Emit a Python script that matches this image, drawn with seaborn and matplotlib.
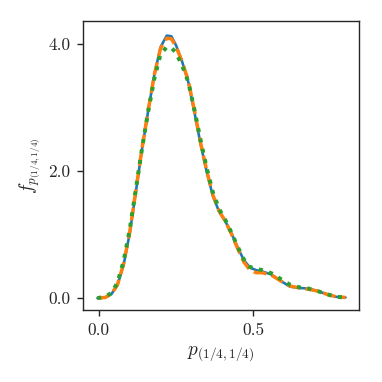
import pandas as pd
import matplotlib
matplotlib.use("Agg")
import matplotlib.pyplot as plt
import seaborn as sns

# density curves
x = [-0.005, 0.02, 0.04, 0.06, 0.08, 0.10, 0.12, 0.14, 0.16, 0.18, 0.20, 0.22,
     0.235, 0.25, 0.27, 0.29, 0.31, 0.33, 0.35, 0.37, 0.39, 0.41, 0.43, 0.45,
     0.47, 0.49, 0.51, 0.53, 0.56, 0.59, 0.62, 0.65, 0.68, 0.71, 0.74, 0.77, 0.80]

f_blue = [0.0, 0.01, 0.06, 0.20, 0.52, 1.02, 1.68, 2.35, 2.95, 3.52, 3.95, 4.13,
          4.12, 3.98, 3.72, 3.40, 2.92, 2.42, 1.98, 1.60, 1.36, 1.21, 1.02, 0.80,
          0.60, 0.48, 0.44, 0.42, 0.37, 0.27, 0.18, 0.16, 0.15, 0.11, 0.06, 0.02, 0.01]

f_orange = [0.0, 0.01, 0.06, 0.21, 0.54, 1.04, 1.70, 2.36, 2.96, 3.52, 3.93, 4.09,
            4.08, 3.96, 3.72, 3.42, 2.95, 2.44, 2.00, 1.62, 1.37, 1.21, 1.01, 0.78,
            0.57, 0.44, 0.40, 0.40, 0.36, 0.27, 0.19, 0.16, 0.14, 0.11, 0.06, 0.02, 0.01]

f_green = [0.0, 0.02, 0.08, 0.24, 0.58, 1.08, 1.72, 2.36, 2.94, 3.46, 3.84, 3.95,
           3.94, 3.86, 3.66, 3.40, 2.96, 2.48, 2.04, 1.66, 1.40, 1.23, 1.03, 0.81,
           0.61, 0.49, 0.46, 0.44, 0.39, 0.30, 0.21, 0.17, 0.15, 0.11, 0.06, 0.02, 0.01]

df = pd.DataFrame({"x": x, "blue": f_blue, "orange": f_orange, "green": f_green})

sns.set_style("ticks")
plt.rcParams["font.family"] = "serif"
plt.rcParams["font.serif"] = ["cmr10", "DejaVu Serif"]
plt.rcParams["mathtext.fontset"] = "cm"
plt.rcParams["axes.formatter.use_mathtext"] = True

pal = sns.color_palette("tab10")

fig, ax = plt.subplots(figsize=(382 / 125, 382 / 125), dpi=125)
fig.subplots_adjust(left=0.217, right=0.94, bottom=0.188, top=0.945)

sns.lineplot(data=df, x="x", y="blue", ax=ax, color=pal[0], lw=1.5)
sns.lineplot(data=df, x="x", y="orange", ax=ax, color=pal[1], lw=2.0, linestyle="--")
sns.lineplot(data=df, x="x", y="green", ax=ax, color=pal[2], lw=2.3, linestyle=":")

ax.set_xlim(-0.052, 0.844)
ax.set_ylim(-0.19, 4.36)
ax.set_xticks([0.0, 0.5])
ax.set_xticklabels(["0.0", "0.5"])
ax.set_yticks([0.0, 2.0, 4.0])
ax.set_yticklabels(["0.0", "2.0", "4.0"])
ax.set_xlabel(r"$p_{(1/4,1/4)}$", fontsize=11)
ax.set_ylabel(r"$f_{p_{(1/4,1/4)}}$", fontsize=11)

fig.savefig("out.png", dpi=125)
